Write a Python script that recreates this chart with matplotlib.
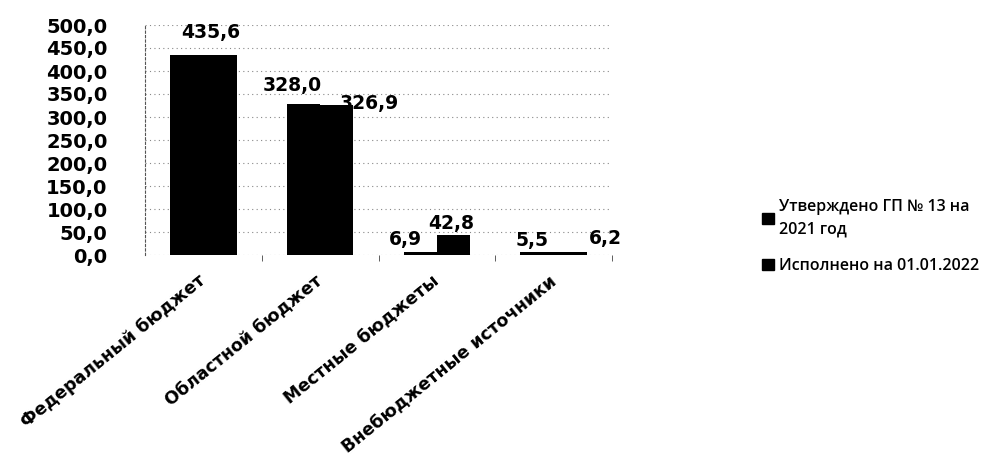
import numpy as np
import matplotlib
matplotlib.use("Agg")
import matplotlib.pyplot as plt
from matplotlib.patches import Patch

plt.rcParams['font.family'] = ['Open Sans', 'DejaVu Sans']
WIDE = ['DejaVu Sans']  # scan looks stretched, wider face fits better

categories = ["Федеральный бюджет", "Областной бюджет", "Местные бюджеты", "Внебюджетные источники"]
approved = [435.6, 328.0, 6.9, 5.5]
executed = [435.6, 326.9, 42.8, 6.2]
series_names = ["Утверждено ГП № 13 на\n2021 год", "Исполнено на 01.01.2022"]
yticks = np.arange(0, 501, 50)

# label offsets in pixels (scan has them scattered), None = label hidden
off_approved = [(24, 22), (-11, 19), (-15, 12), (-5, 12)]
off_executed = [None, (33, 1), (-2, 12), (35, 14)]

fig = plt.figure(figsize=(9.81, 4.61), dpi=100)
ax = fig.add_axes([145/981, 1-255/461, (612-145)/981, 230/461])

x = np.arange(len(categories))
w = 0.285
b1 = ax.bar(x - w/2, approved, w, color="black", label=series_names[0])
b2 = ax.bar(x + w/2, executed, w, color="black", label=series_names[1])

for bars, vals, offs in [(b1, approved, off_approved), (b2, executed, off_executed)]:
    for r, v, o in zip(bars, vals, offs):
        if o is None:
            continue
        ax.annotate(f"{v:.1f}".replace(".", ","), (r.get_x() + r.get_width()/2, r.get_height()),
                    xytext=o, textcoords="offset pixels", ha="center", va="center",
                    family=WIDE, fontsize=13.5, fontweight="bold", color="black")

ax.set_xlim(-0.5, 3.5)
ax.set_ylim(0, 500)
ax.set_yticks(yticks)
ax.set_yticklabels([f"{t:.1f}".replace(".", ",") for t in yticks], family=WIDE,
                   fontsize=14, fontweight="bold")
ax.yaxis.grid(True, color="#888888", linestyle=(0, (1, 3)), linewidth=0.8)
ax.set_axisbelow(True)
ax.tick_params(axis="y", length=0, pad=27)

ax.set_xticks(x)
ax.set_xticklabels(categories, rotation=39, ha="right", va="center", rotation_mode="anchor",
                   family=WIDE, fontsize=12.5, fontweight="bold")
ax.set_xticks(np.arange(0.5, 4, 1), minor=True)
ax.tick_params(axis="x", which="major", length=0, pad=17)
ax.tick_params(axis="x", which="minor", length=4, color="#444444")

for s in ["top", "right", "bottom"]:
    ax.spines[s].set_visible(False)
ax.spines["left"].set_linestyle((0, (2, 2)))
ax.spines["left"].set_color("#555555")

handles = [Patch(color="black"), Patch(color="black")]
leg = fig.legend(handles, series_names, loc="upper left", bbox_to_anchor=(748/981, 1-185/461),
                 frameon=False, prop={"weight": "semibold", "size": 11.5},
                 handlelength=0.7, handleheight=0.7, handletextpad=0.35, labelspacing=1.3)
for t in leg.get_texts():
    t.set_linespacing(1.5)

fig.savefig("out.png", dpi=100)
